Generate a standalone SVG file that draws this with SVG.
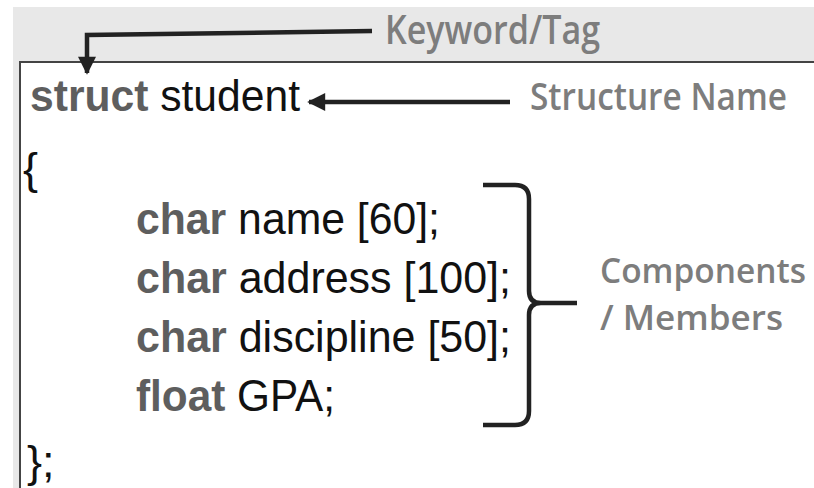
<svg xmlns="http://www.w3.org/2000/svg" width="814" height="488" viewBox="0 0 814 488">
<style>
.code{font-family:"Liberation Sans",Arial,sans-serif;font-size:45px;fill:#111}
.kw{font-weight:bold;fill:#5e5e5e}
.lbl{font-family:"Open Sans","Liberation Sans",sans-serif;font-weight:600;fill:#7d7d7d}
.conn{stroke:#222;fill:none;stroke-width:4.5}
</style>
<defs>
<marker id="ah" viewBox="0 0 10 10" refX="9" refY="5" markerWidth="4.2" markerHeight="4" markerUnits="strokeWidth" orient="auto">
<path d="M0,0 L10,5 L0,10 z" fill="#222"/>
</marker>
</defs>
<rect x="0" y="0" width="814" height="488" fill="#fff"/>
<rect x="13" y="7" width="801" height="481" fill="#e8e8e8"/>
<rect x="20" y="62" width="794" height="426" fill="#fff"/>
<path d="M20,488 L20,62 L814,62" fill="none" stroke="#444" stroke-width="2"/>

<g id="connectors">
<path class="conn" d="M372,31 L87,35 L87,73" marker-end="url(#ah)"/>
<path class="conn" d="M510,102 L309,102" marker-end="url(#ah)"/>
<path class="conn" stroke-width="3.5" d="M483,185 L515,185 Q529,185 529,199 L529,291 Q529,303 541,303 L577,303 M541,303 Q529,303 529,315 L529,411 Q529,425 515,425 L483,425"/>
</g>

<g id="label-keyword"><text class="lbl" x="385" y="44" font-size="40" textLength="215" lengthAdjust="spacingAndGlyphs">Keyword/Tag</text></g>
<g id="label-structname"><text class="lbl" x="530" y="110" font-size="37" textLength="257" lengthAdjust="spacingAndGlyphs">Structure Name</text></g>
<g id="label-members">
<text class="lbl" x="600" y="283" font-size="34" textLength="206" lengthAdjust="spacingAndGlyphs">Components</text>
<text class="lbl" x="600" y="330" font-size="34" textLength="183" lengthAdjust="spacingAndGlyphs">/ Members</text>
</g>

<g id="code">
<text class="code" x="30" y="111" textLength="270" lengthAdjust="spacingAndGlyphs"><tspan class="kw">struct</tspan> student</text>
<text class="code" x="23" y="184">{</text>
<text class="code" x="136" y="234" textLength="304" lengthAdjust="spacingAndGlyphs"><tspan class="kw">char</tspan> name [60];</text>
<text class="code" x="136" y="293" textLength="375" lengthAdjust="spacingAndGlyphs"><tspan class="kw">char</tspan> address [100];</text>
<text class="code" x="136" y="352" textLength="375" lengthAdjust="spacingAndGlyphs"><tspan class="kw">char</tspan> discipline [50];</text>
<text class="code" x="136" y="411" textLength="199" lengthAdjust="spacingAndGlyphs"><tspan class="kw">float</tspan> GPA;</text>
<text class="code" x="27" y="477">};</text>
</g>
</svg>
